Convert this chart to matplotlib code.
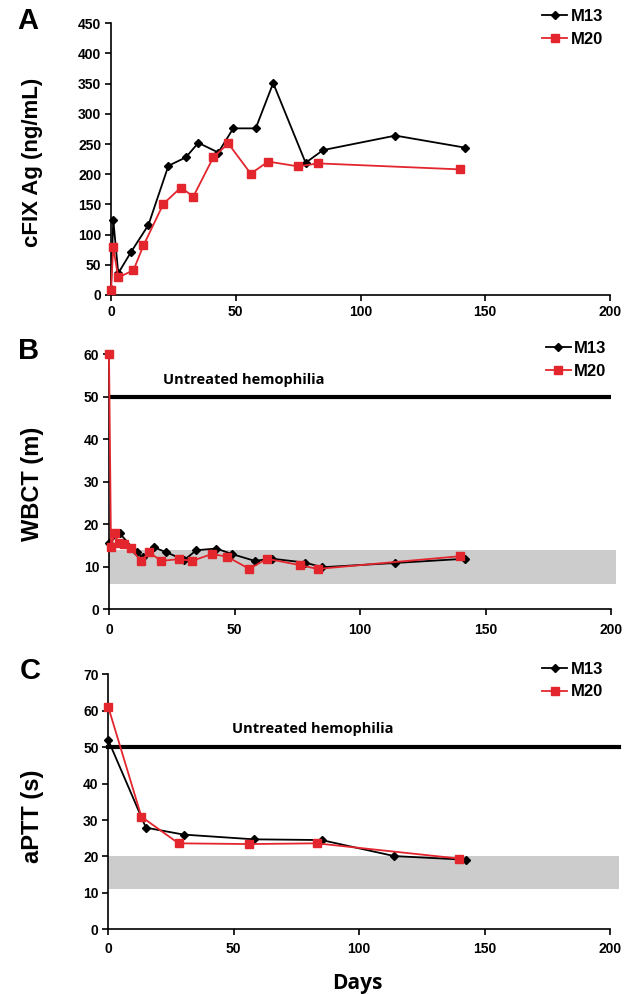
import matplotlib
matplotlib.use("Agg")
import matplotlib.pyplot as plt

# ---------------- data ----------------
a_m13_days = [0, 0.9, 2.9, 8, 15, 23, 30, 35, 43, 49, 58, 65, 78, 85, 114, 142]
a_m13_vals = [10, 125, 36, 71, 116, 214, 228, 252, 236, 276, 276, 351, 219, 240, 264, 244]
a_m20_days = [0, 0.9, 2.9, 9, 13, 21, 28, 33, 41, 47, 56, 63, 75, 83, 140]
a_m20_vals = [9, 79, 29, 41, 82, 151, 178, 163, 228, 251, 201, 221, 213, 218, 208]

b_m13_days = [0, 4.2, 11, 13.6, 17.8, 22.9, 30, 34.8, 42.8, 49, 58, 65, 78, 85, 114, 142]
b_m13_vals = [15.5, 17.9, 13.4, 12.2, 14.6, 13.4, 11.6, 13.9, 14.3, 13.0, 11.4, 11.9, 11.0, 9.9, 10.9, 11.9]
b_m20_days = [0, 0.8, 2.2, 3.8, 5.9, 8.8, 12.7, 16, 20.8, 27.9, 33.1, 41, 47, 55.9, 62.9, 76, 83.1, 140]
b_m20_vals = [60, 14.6, 17.9, 15.5, 15.4, 14.4, 11.3, 13.4, 11.4, 11.8, 11.4, 13.0, 12.4, 9.5, 11.9, 10.4, 9.5, 12.5]

c_m13_days = [0, 15, 30, 58, 85, 114, 142.5]
c_m13_vals = [51.9, 27.9, 26.0, 24.7, 24.5, 20.1, 19.1]
c_m20_days = [0, 13.2, 28, 56.2, 83, 140]
c_m20_vals = [61.0, 30.9, 23.6, 23.4, 23.6, 19.4]

series_names = ["M13", "M20"]
untreated_level = 50
b_normal_range = (6, 14)
c_normal_range = (11, 20)
x_ticks = [0, 50, 100, 150, 200]

# ---------------- style ----------------
RED = "#e3262d"
GRAY = "#cccccc"
TICKFONT = "Liberation Sans"
W, H = 634, 994
fig = plt.figure(figsize=(W / 100, H / 100), dpi=100)


def px_axes(left, right, top, bottom):
    return fig.add_axes([left / W, 1 - bottom / H, (right - left) / W, (bottom - top) / H])


def style(ax, ymax, ystep, xpad):
    ax.set_xlim(0, 200)
    ax.set_ylim(0, ymax)
    ax.set_xticks(x_ticks)
    ax.set_yticks(range(0, ymax + 1, ystep))
    for s in ["top", "right"]:
        ax.spines[s].set_visible(False)
    for s in ["left", "bottom"]:
        ax.spines[s].set_linewidth(1.2)
    ax.tick_params(direction="out", length=4, width=1.2)
    ax.tick_params(axis="y", pad=3)
    ax.tick_params(axis="x", pad=xpad)
    for lab in ax.get_xticklabels() + ax.get_yticklabels():
        lab.set_fontfamily(TICKFONT)
        lab.set_fontweight("bold")
        lab.set_fontsize(10)


def plot_series(ax, d13, v13, d20, v20):
    ax.plot(d13, v13, color="black", lw=1.3, marker="D", ms=4.2, zorder=4,
            label=series_names[0], clip_on=False)
    ax.plot(d20, v20, color=RED, lw=1.3, marker="s", ms=5.8, zorder=5,
            label=series_names[1], clip_on=False)


def add_legend(ax, right_px, top_px):
    ax.legend(loc="upper right", bbox_to_anchor=(right_px / W, 1 - top_px / H),
              bbox_transform=fig.transFigure, frameon=False, borderpad=0,
              borderaxespad=0, handlelength=1.5, handletextpad=0.2,
              labelspacing=0.45, prop={"family": TICKFONT, "weight": "bold", "size": 12})


# ---------------- Panel A ----------------
axA = px_axes(111, 610, 23.3, 295)
plot_series(axA, a_m13_days, a_m13_vals, a_m20_days, a_m20_vals)
style(axA, 450, 50, 3.5)
add_legend(axA, 603, 9)
fig.text(28 / W, 1 - 21 / H, "A", family=TICKFONT, weight="bold", size=21, ha="center", va="center")
fig.text(33 / W, 1 - 162 / H, "cFIX Ag (ng/mL)", family=TICKFONT, weight="bold", size=16,
         rotation=90, ha="center", va="center")

# ---------------- Panel B ----------------
axB = px_axes(109, 611, 354.3, 609.3)
axB.axhspan(*b_normal_range, xmin=0, xmax=1.01, color=GRAY, lw=0, zorder=1, clip_on=False)
axB.axhline(untreated_level, 0, 1, color="black", lw=3, zorder=3)
plot_series(axB, b_m13_days, b_m13_vals, b_m20_days, b_m20_vals)
style(axB, 60, 10, 6)
axB.text(21.4, 54, "Untreated hemophilia", family="Open Sans", weight="bold", size=10.5,
         ha="left", va="center")
add_legend(axB, 606.7, 341)
fig.text(29 / W, 1 - 351 / H, "B", family=TICKFONT, weight="bold", size=21, ha="center", va="center")
fig.text(33 / W, 1 - 484 / H, "WBCT (m)", family=TICKFONT, weight="bold", size=17,
         rotation=90, ha="center", va="center")

# ---------------- Panel C ----------------
axC = px_axes(108.3, 610, 674.3, 929.3)
axC.axhspan(*c_normal_range, xmin=0, xmax=1.018, color=GRAY, lw=0, zorder=1, clip_on=False)
axC.axhline(untreated_level, 0, 1.018, color="black", lw=3, zorder=3, clip_on=False)
plot_series(axC, c_m13_days, c_m13_vals, c_m20_days, c_m20_vals)
style(axC, 70, 10, 5.5)
axC.text(49.2, 55, "Untreated hemophilia", family="Open Sans", weight="bold", size=10.5,
         ha="left", va="center")
add_legend(axC, 603, 662)
fig.text(30 / W, 1 - 671 / H, "C", family=TICKFONT, weight="bold", size=21, ha="center", va="center")
fig.text(33 / W, 1 - 816 / H, "aPTT (s)", family=TICKFONT, weight="bold", size=17,
         rotation=90, ha="center", va="center")

fig.text(357 / W, 1 - 983 / H, "Days", family="Open Sans", weight="bold", size=15,
         ha="center", va="center")

fig.savefig("out.png", dpi=100)
